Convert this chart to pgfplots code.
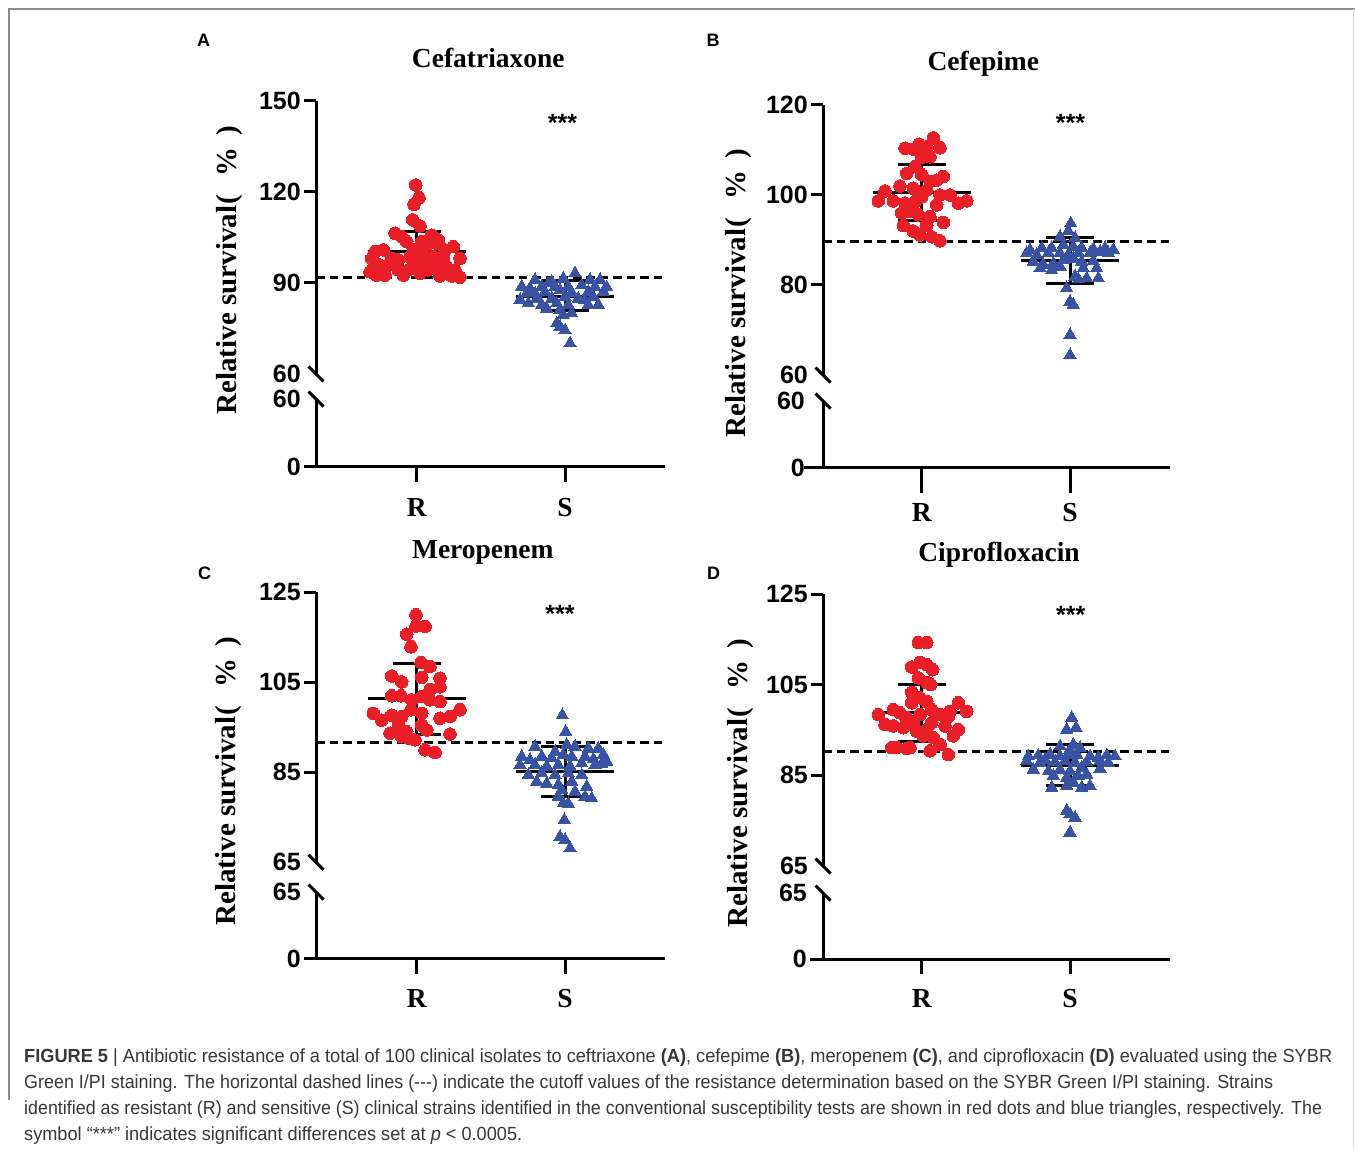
\documentclass[border=0pt]{standalone}
\usepackage{fontspec}
\setmainfont{Liberation Serif}
\setsansfont{Liberation Sans}
\usepackage{pgfplots}
\pgfplotsset{compat=1.18}
\usepackage{graphicx}
\definecolor{myred}{RGB}{233,30,38}
\definecolor{myblue}{RGB}{57,83,164}
\definecolor{capgray}{RGB}{55,55,55}
\newcommand{\tickf}{\fontsize{25}{25}\selectfont\sffamily\bfseries}
\newcommand{\catf}{\fontsize{27.5}{28}\selectfont\rmfamily\bfseries}
\newcommand{\titf}{\fontsize{27.5}{28}\selectfont\rmfamily\bfseries}
\newcommand{\ylabf}{\fontsize{29}{30}\selectfont\rmfamily\bfseries}
\newcommand{\starf}{\fontsize{25}{25}\selectfont\sffamily\bfseries}
\newcommand{\letf}{\fontsize{18}{18}\selectfont\sffamily\bfseries}
\newcommand{\capf}{\fontsize{19}{23}\selectfont\sffamily\color{capgray}}
\newcommand{\ylab}{Relative survival\kern1pt(\kern19pt\%\kern12pt)}

\pgfplotsset{
  base/.style={scale only axis, clip=false,
    axis line style={line width=3pt},
    tick align=outside, major tick length=12pt,
    major tick style={line width=3pt, black},
    /pgf/number format/assume math mode=true,
    yticklabel style={font=\tickf, inner sep=0pt, xshift=-3pt},
    xticklabel style={font=\catf, inner sep=0pt, anchor=north},
    extra y tick style={major tick style={draw=none}},
  },
  up/.style={base, axis x line=none, axis y line*=left, xtick=\empty},
  lo/.style={base, axis lines*=left, ytick={0}, xtick=\empty,
    extra x ticks={0,148.3}, extra x tick labels={R,S}},
  rdot/.style={only marks, mark=*, mark size=6.3pt, color=myred,
    mark options={fill=myred, draw=myred, line width=0pt}},
  btri/.style={only marks, mark=triangle*, mark size=7.2pt, color=myblue,
    mark options={fill=myblue, draw=myblue, line width=0pt}},
  cut/.style={black, line width=3pt, dash pattern=on 8.5pt off 5pt, no marks},
  msd/.style={black, line width=3pt, no marks},
}
\tikzset{brk/.style={line width=3pt, black}}

\begin{document}
\begin{tikzpicture}
\fill[white] (0,0) rectangle (1355pt,1149pt);
\path[use as bounding box] (0,0) rectangle (1355pt,1149pt);
% frame
\draw[black!45, line width=1.5pt] (9pt,49pt) -- (9pt,1140pt) -- (1355pt,1140pt);
\draw[black!15, line width=1.5pt] (1353.5pt,1140pt) -- (1353.5pt,0pt);

%================ Panel A ================
\begin{axis}[up, at={(316pt,775pt)}, anchor=south west, width=349pt, height=273pt,
  xmin=-100.7, xmax=248.3, ymin=60, ymax=150, ytick={90,120,150}, extra y ticks={60}]
\addplot[rdot] table {
x y
-1.0 122.3
2.3 118.1
-2.7 115.9
-4.0 110.8
3.3 108.8
-21.7 106.4
-15.0 105.3
15.0 105.8
21.6 104.2
-10.0 103.6
5.0 103.6
10.0 102.5
20.0 103.1
-41.7 100.3
-33.4 100.9
-3.4 100.9
5.0 100.3
28.3 100.9
36.6 102.0
-45.0 98.1
-25.0 98.1
-18.4 97.6
-6.7 98.7
3.3 98.1
16.6 98.7
26.6 98.5
43.3 98.1
-36.7 95.9
-28.4 95.9
-20.0 95.9
-1.7 95.9
8.3 96.5
18.3 95.9
30.0 95.4
-46.7 93.7
-18.4 94.3
-8.4 94.3
11.6 94.3
38.3 94.3
-40.0 92.6
-31.7 92.6
-13.4 92.6
3.3 93.2
23.3 92.3
35.0 92.3
43.3 91.9
};
\addplot[btri] table {
x y
158.3 93.2
118.3 91.0
146.6 91.5
173.3 91.0
183.3 91.0
135.0 90.4
131.6 89.9
105.0 88.8
113.3 88.2
125.0 88.8
138.3 88.8
151.6 88.8
165.0 89.3
178.3 88.8
190.0 88.6
110.0 86.6
118.3 86.6
128.3 87.1
143.3 87.7
155.0 86.8
171.6 87.1
186.6 87.1
103.3 84.4
120.0 84.9
135.0 84.9
148.3 85.5
161.6 84.9
168.3 84.4
176.6 85.5
111.6 83.3
125.0 82.8
140.0 83.3
151.6 82.8
171.6 82.8
181.6 82.8
130.0 81.6
143.3 81.1
155.0 80.0
146.6 79.5
140.0 76.7
143.3 75.6
148.3 74.4
153.3 70.1
};
\addplot[cut] coordinates {(-100.7,91.7) (248.3,91.7)};
\addplot[msd] coordinates {(-49,100.3) (49,100.3)};
\addplot[msd] coordinates {(-24,107.1) (24,107.1)};
\addplot[msd] coordinates {(-24,93.5) (24,93.5)};
\addplot[msd] coordinates {(0,93.5) (0,107.1)};
\addplot[msd] coordinates {(99.3,85.7) (197.3,85.7)};
\addplot[msd] coordinates {(124.3,90.8) (172.3,90.8)};
\addplot[msd] coordinates {(124.3,80.8) (172.3,80.8)};
\addplot[msd] coordinates {(148.3,80.8) (148.3,90.8)};
\draw[brk] (rel axis cs:0,0) ++(-7.5pt,7.5pt) -- ++(15pt,-15pt);
\end{axis}
\begin{axis}[lo, at={(316pt,682pt)}, anchor=south west, width=349pt, height=68pt,
  xmin=-100.7, xmax=248.3, ymin=0, ymax=60, extra y ticks={60},
  extra x tick style={major tick length=15pt, xticklabel style={yshift=-16pt}}]
\draw[brk] (rel axis cs:0,1) ++(-7.5pt,7.5pt) -- ++(15pt,-15pt);
\end{axis}

%================ Panel B ================
\begin{axis}[up, at={(823pt,774pt)}, anchor=south west, width=347pt, height=270pt,
  xmin=-98.7, xmax=248.3, ymin=60, ymax=120, ytick={80,100,120}, extra y ticks={60}]
\addplot[rdot] table {
x y
11.6 112.7
-16.7 110.4
-8.4 110.2
-2.4 111.3
5.0 110.7
18.3 110.5
0.0 108.3
8.3 108.5
-6.7 106.3
-15.0 104.8
0.0 104.5
15.0 103.3
21.6 104.1
8.3 103.0
-21.7 102.0
-36.7 100.9
-8.4 101.5
5.0 101.1
18.3 100.0
28.3 100.0
-43.4 98.7
-28.4 98.7
-16.7 98.2
-6.7 98.5
0.0 99.6
15.0 97.8
36.6 98.2
45.0 98.7
-13.4 96.3
-3.4 95.6
8.3 95.2
-20.0 96.0
21.6 93.9
-18.4 93.2
-8.4 92.0
-1.7 91.1
5.0 93.3
10.0 90.7
18.3 89.8
};
\addplot[btri] table {
x y
149.0 93.7
146.6 92.0
138.3 90.7
153.3 90.4
108.3 87.8
120.0 88.2
130.0 88.2
141.6 88.9
151.6 88.5
160.0 88.2
171.6 88.0
183.3 88.2
191.6 87.8
105.0 87.1
115.0 86.7
126.6 87.1
138.3 87.1
146.6 86.7
156.6 87.1
168.3 87.1
178.3 87.4
186.6 87.1
111.6 85.2
121.6 84.5
131.6 84.8
141.6 85.6
151.6 85.9
160.0 85.2
171.6 85.3
118.3 83.7
130.0 83.3
138.3 84.1
161.6 83.7
175.0 83.7
153.3 81.9
156.6 81.3
165.0 81.5
176.6 81.5
145.0 79.3
148.3 76.3
151.6 75.6
148.3 68.9
148.3 64.4
};
\addplot[cut] coordinates {(-98.7,89.6) (248.3,89.6)};
\addplot[msd] coordinates {(-49,100.5) (49,100.5)};
\addplot[msd] coordinates {(-24,106.8) (24,106.8)};
\addplot[msd] coordinates {(-24,94.3) (24,94.3)};
\addplot[msd] coordinates {(0,94.3) (0,106.8)};
\addplot[msd] coordinates {(99.3,85.4) (197.3,85.4)};
\addplot[msd] coordinates {(124.3,90.5) (172.3,90.5)};
\addplot[msd] coordinates {(124.3,80.4) (172.3,80.4)};
\addplot[msd] coordinates {(148.3,80.4) (148.3,90.5)};
\draw[brk] (rel axis cs:0,0) ++(-7.5pt,7.5pt) -- ++(15pt,-15pt);
\end{axis}
\begin{axis}[lo, at={(823pt,681pt)}, anchor=south west, width=347pt, height=67pt,
  xmin=-98.7, xmax=248.3, ymin=0, ymax=60, extra y ticks={60}, major tick length=19pt,
  yticklabel style={xshift=4pt},
  extra x tick style={major tick length=25pt, xticklabel style={yshift=-10pt}}]
\draw[brk] (rel axis cs:0,1) ++(-7.5pt,7.5pt) -- ++(15pt,-15pt);
\end{axis}

%================ Panel C ================
\begin{axis}[up, at={(316pt,286.7pt)}, anchor=south west, width=349pt, height=270pt,
  xmin=-100.7, xmax=248.3, ymin=65, ymax=125, ytick={85,105,125}, extra y ticks={65}]
\addplot[rdot] table {
x y
-0.7 120.0
-0.7 117.5
8.3 117.4
-10.0 115.7
-5.7 112.9
4.3 109.4
13.3 108.5
-25.0 106.4
-15.0 105.1
5.0 106.1
23.3 105.9
23.3 104.0
13.3 103.4
-25.0 102.0
-15.7 102.0
-5.0 101.1
5.0 101.8
13.3 101.1
23.3 100.7
-43.4 98.1
-35.0 96.6
-25.0 97.7
-15.0 97.4
-5.7 98.9
5.0 98.1
43.3 98.9
33.3 97.4
23.3 97.0
-26.7 93.7
-18.4 94.8
-10.0 94.0
-1.7 92.2
5.0 95.5
10.0 94.4
-15.0 92.9
-8.4 92.6
33.3 93.5
8.3 90.0
18.3 89.4
-18.4 95.9
};
\addplot[btri] table {
x y
145.6 97.7
149.0 94.0
118.3 90.7
150.0 91.1
158.3 90.7
171.6 90.3
181.6 90.3
138.3 89.6
105.0 88.5
113.3 87.7
125.0 88.5
135.0 88.1
146.6 88.9
155.0 88.5
168.3 88.5
176.6 87.9
186.6 88.9
190.0 87.4
103.3 86.6
118.3 86.6
130.0 86.3
141.6 86.6
153.3 86.3
165.0 87.0
178.3 86.6
185.0 86.9
111.6 84.4
125.0 84.8
138.3 84.4
151.6 84.8
165.0 84.4
120.0 82.9
130.0 82.5
141.6 82.2
155.0 82.9
170.0 81.8
145.0 81.1
158.3 80.7
168.3 79.6
175.0 79.2
141.6 79.6
146.6 78.1
151.6 78.0
147.6 74.4
143.3 70.7
148.3 70.0
153.3 68.1
};
\addplot[cut] coordinates {(-100.7,91.7) (248.3,91.7)};
\addplot[msd] coordinates {(-49,101.3) (49,101.3)};
\addplot[msd] coordinates {(-24,109.1) (24,109.1)};
\addplot[msd] coordinates {(-24,93.5) (24,93.5)};
\addplot[msd] coordinates {(0,93.5) (0,109.1)};
\addplot[msd] coordinates {(99.3,85.1) (197.3,85.1)};
\addplot[msd] coordinates {(124.3,90.7) (172.3,90.7)};
\addplot[msd] coordinates {(124.3,79.6) (172.3,79.6)};
\addplot[msd] coordinates {(148.3,79.6) (148.3,90.7)};
\draw[brk] (rel axis cs:0,0) ++(-7.5pt,7.5pt) -- ++(15pt,-15pt);
\end{axis}
\begin{axis}[lo, at={(316pt,190pt)}, anchor=south west, width=349pt, height=67pt,
  xmin=-100.7, xmax=248.3, ymin=0, ymax=65, extra y ticks={65},
  extra x tick style={major tick length=15pt, xticklabel style={yshift=-15pt}}]
\draw[brk] (rel axis cs:0,1) ++(-7.5pt,7.5pt) -- ++(15pt,-15pt);
\end{axis}

%================ Panel D ================
\begin{axis}[up, at={(823pt,283pt)}, anchor=south west, width=347pt, height=272pt,
  xmin=-98.7, xmax=248.3, ymin=65, ymax=125, ytick={85,105,125}, extra y ticks={65}]
\addplot[rdot] table {
x y
-3.4 114.3
5.0 114.3
-10.0 108.9
-1.7 109.9
5.0 109.4
11.0 108.3
-3.4 106.5
5.0 105.5
9.0 105.0
-10.0 103.3
-1.7 102.1
-10.0 101.0
5.0 101.3
36.6 101.0
10.0 99.5
28.3 99.1
45.0 99.1
-43.4 98.4
-28.4 99.5
-21.7 98.8
-15.0 97.7
-1.7 98.4
18.3 98.4
26.6 97.9
-36.7 96.2
-28.4 95.9
-18.4 95.5
-8.4 96.6
10.0 96.6
23.3 95.9
-5.0 94.7
5.0 95.1
36.6 95.1
31.6 93.7
1.6 93.7
11.6 93.3
-25.0 91.1
-15.0 90.9
18.3 91.8
-11.7 91.1
26.6 89.6
8.3 90.4
-30.0 91.1
};
\addplot[btri] table {
x y
150.0 97.7
145.0 95.1
154.3 95.5
138.3 91.4
151.6 91.8
148.3 90.7
158.3 91.1
106.6 89.2
116.6 89.4
128.3 89.6
138.3 89.2
146.6 89.4
155.0 89.6
168.3 89.2
176.6 88.9
185.0 89.4
193.3 89.2
123.3 88.5
105.0 88.2
118.3 87.8
133.3 87.9
143.3 88.2
153.3 87.8
165.0 87.9
178.3 88.2
186.6 87.8
111.6 86.3
126.6 85.9
138.3 86.3
148.3 85.9
160.0 86.7
178.3 86.5
131.6 84.9
145.0 84.5
156.6 84.9
165.0 85.2
130.0 82.3
145.0 82.7
160.0 82.3
168.3 82.7
151.6 83.4
145.0 77.2
148.3 76.4
153.3 75.7
148.3 72.4
};
\addplot[cut] coordinates {(-98.7,90.3) (248.3,90.3)};
\addplot[msd] coordinates {(-49,98.8) (49,98.8)};
\addplot[msd] coordinates {(-24,105.0) (24,105.0)};
\addplot[msd] coordinates {(-24,92.5) (24,92.5)};
\addplot[msd] coordinates {(0,92.5) (0,105.0)};
\addplot[msd] coordinates {(99.3,87.2) (197.3,87.2)};
\addplot[msd] coordinates {(124.3,91.8) (172.3,91.8)};
\addplot[msd] coordinates {(124.3,82.8) (172.3,82.8)};
\addplot[msd] coordinates {(148.3,82.8) (148.3,91.8)};
\draw[brk] (rel axis cs:0,0) ++(-7.5pt,7.5pt) -- ++(15pt,-15pt);
\end{axis}
\begin{axis}[lo, at={(823pt,189.7pt)}, anchor=south west, width=347pt, height=66.3pt,
  xmin=-98.7, xmax=248.3, ymin=0, ymax=65, extra y ticks={65}, major tick length=13pt,
  extra x tick style={major tick length=15pt, xticklabel style={yshift=-15pt}}]
\draw[brk] (rel axis cs:0,1) ++(-7.5pt,7.5pt) -- ++(15pt,-15pt);
\end{axis}

% titles
\node[anchor=base, font=\titf, inner sep=0pt] at (488.3pt,1081pt) {Cefatriaxone};
\node[anchor=base, font=\titf, inner sep=0pt] at (983.3pt,1078pt) {Cefepime};
\node[anchor=base, font=\titf, inner sep=0pt] at (482.8pt,590pt) {Meropenem};
\node[anchor=base, font=\titf, inner sep=0pt] at (999pt,587.5pt) {Ciprofloxacin};
% stars
\node[anchor=base, font=\starf, inner sep=0pt] at (562.5pt,1017pt) {***};
\node[anchor=base, font=\starf, inner sep=0pt] at (1070.5pt,1017pt) {***};
\node[anchor=base, font=\starf, inner sep=0pt] at (560pt,526pt) {***};
\node[anchor=base, font=\starf, inner sep=0pt] at (1070.8pt,525pt) {***};
% panel letters
\node[anchor=base, font=\letf, inner sep=0pt] at (203.7pt,1102.3pt) {A};
\node[anchor=base, font=\letf, inner sep=0pt] at (713pt,1102.3pt) {B};
\node[anchor=base, font=\letf, inner sep=0pt] at (204.5pt,569pt) {C};
\node[anchor=base, font=\letf, inner sep=0pt] at (713.7pt,569pt) {D};
% y labels
\node[rotate=90, anchor=base, font=\ylabf, inner sep=0pt] at (236pt,879pt) {\ylab};
\node[rotate=90, anchor=base, font=\ylabf, inner sep=0pt] at (745pt,856pt) {\ylab};
\node[rotate=90, anchor=base, font=\ylabf, inner sep=0pt] at (235pt,368pt) {\ylab};
\node[rotate=90, anchor=base, font=\ylabf, inner sep=0pt] at (747pt,366pt) {\ylab};
% caption
\node[anchor=base west, inner sep=0pt] at (24pt,86pt) {\resizebox{1308pt}{\height}{\capf \textbf{FIGURE 5} | Antibiotic resistance of a total of 100 clinical isolates to ceftriaxone \textbf{(A)}, cefepime \textbf{(B)}, meropenem \textbf{(C)}, and ciprofloxacin \textbf{(D)} evaluated using the SYBR}};
\node[anchor=base west, inner sep=0pt] at (24pt,60pt) {\resizebox{1249pt}{\height}{\capf Green I/PI staining. The horizontal dashed lines (-{}-{}-) indicate the cutoff values of the resistance determination based on the SYBR Green I/PI staining. Strains}};
\node[anchor=base west, inner sep=0pt] at (24pt,35pt) {\resizebox{1298pt}{\height}{\capf identified as resistant (R) and sensitive (S) clinical strains identified in the conventional susceptibility tests are shown in red dots and blue triangles, respectively. The}};
\node[anchor=base west, inner sep=0pt] at (24pt,9pt) {\resizebox{498pt}{\height}{\capf symbol “***” indicates significant differences set at \textit{p} < 0.0005.}};
\end{tikzpicture}
\end{document}
